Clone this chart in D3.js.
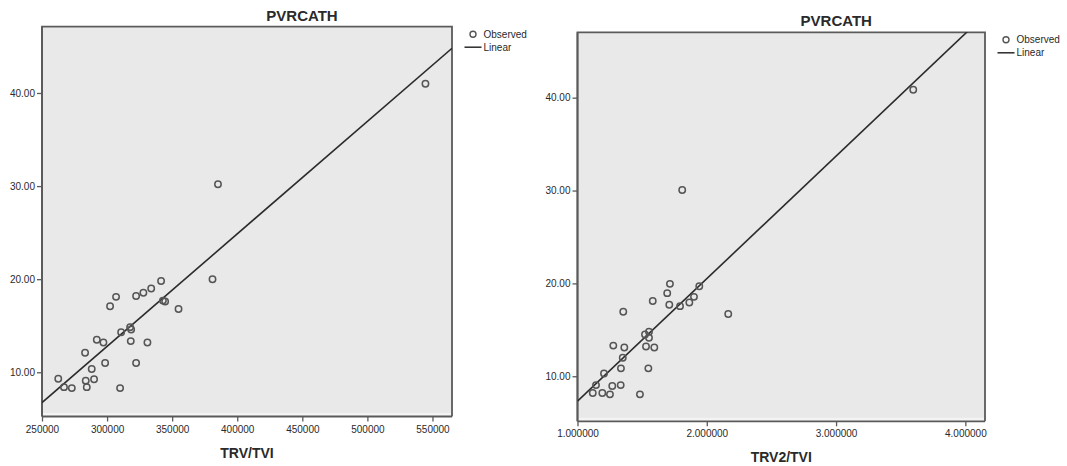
<!DOCTYPE html>
<html>
<head>
<meta charset="utf-8">
<script src="https://cdn.jsdelivr.net/npm/d3@7"></script>
<style>
  body { margin: 0; background: #fff; }
  svg { display: block; font-family: Arial, "Liberation Sans", sans-serif; }
</style>
</head>
<body>
<svg id="chart" width="1067" height="466"></svg>
<script>
// left panel: TRV/TVI vs PVRCATH
const trvTvi = [262500, 266900, 272900, 283100, 283600, 284400, 288200, 290000, 292100, 297200,
                298500, 302300, 306900, 310000, 310800, 317700, 318500, 318200, 322300, 322300,
                327900, 331000, 333900, 341500, 342900, 344600, 354900, 381000, 385200, 544600];
const pvrLeft = [9.3, 8.4, 8.3, 12.1, 9.1, 8.4, 10.35, 9.25, 13.5, 13.2,
                 11.0, 17.1, 18.1, 8.3, 14.3, 14.85, 14.6, 13.35, 18.2, 11.0,
                 18.55, 13.2, 19.0, 19.8, 17.7, 17.6, 16.8, 20.0, 30.2, 41.0];
// right panel: TRV2/TVI vs PVRCATH
const trv2Tvi = [1.118, 1.143, 1.192, 1.205, 1.251, 1.269, 1.277, 1.334, 1.336, 1.350,
                 1.354, 1.362, 1.483, 1.522, 1.530, 1.548, 1.553, 1.553, 1.582, 1.594,
                 1.694, 1.710, 1.715, 1.793, 1.865, 1.901, 1.942, 2.166, 1.810, 3.597];
const pvrRight = [8.2, 9.05, 8.2, 10.3, 8.05, 8.95, 13.3, 9.05, 10.85, 12.0,
                  16.95, 13.1, 8.05, 14.5, 13.2, 10.85, 14.8, 14.15, 18.1, 13.1,
                  18.95, 17.7, 19.95, 17.55, 17.95, 18.55, 19.7, 16.7, 30.05, 40.85];

// fitted lines: [intercept, slope]
const fitLeft = [-23.48, 0.00012086];
const fitRight = [-5.89, 13.2];

const yTicks = [10, 20, 30, 40];
const yTickLabels = ['10.00', '20.00', '30.00', '40.00'];
const xTicksLeft = [250000, 300000, 350000, 400000, 450000, 500000, 550000];
const xTickLabelsLeft = ['250000', '300000', '350000', '400000', '450000', '500000', '550000'];
const xTicksRight = [1, 2, 3, 4];
const xTickLabelsRight = ['1.000000', '2.000000', '3.000000', '4.000000'];

const svg = d3.select('#chart');
const frameCol = '#5a5a5a';
const textCol = '#2a2a2a';

function drawPanel(p) {
  const g = svg.append('g');
  const x = d3.scaleLinear().domain(p.xDomain).range([p.left, p.right]);
  const y = d3.scaleLinear().domain(p.yDomain).range([p.bottom, p.top]);

  // plot box
  g.append('rect')
    .attr('x', p.left).attr('y', p.top)
    .attr('width', p.right - p.left).attr('height', p.bottom - p.top)
    .attr('fill', '#f4f4f4');
  g.append('rect')
    .attr('x', p.left + 1).attr('y', p.top + 1)
    .attr('width', p.right - p.left - 2).attr('height', p.bottom - p.top - 4.5)
    .attr('fill', '#e9e9e9');
  g.append('path')
    .attr('d', `M${p.left},${p.bottom}V${p.top}H${p.right}V${p.bottom}`)
    .attr('fill', 'none').attr('stroke', frameCol).attr('stroke-width', 1.8);

  // axes
  const yAxis = g.append('g')
    .attr('transform', `translate(${p.left},0)`)
    .call(d3.axisLeft(y).tickValues(yTicks).tickSize(5).tickPadding(2)
      .tickFormat((d, i) => yTickLabels[i]));
  const xAxis = g.append('g')
    .attr('transform', `translate(0,${p.bottom})`)
    .call(d3.axisBottom(x).tickValues(p.xTicks).tickSize(5).tickPadding(4)
      .tickFormat((d, i) => p.xLabels[i]));
  [xAxis, yAxis].forEach(a => {
    a.select('.domain').attr('stroke', frameCol).attr('stroke-width', 1.8);
    a.selectAll('.tick line').attr('stroke', frameCol).attr('stroke-width', 1.3);
    a.selectAll('.tick text').attr('fill', textCol).style('font-size', '10px');
  });
  yAxis.select('.domain').attr('d', `M0,${p.top}V${p.bottom}`);
  xAxis.select('.domain').attr('d', `M${p.left},0H${p.right}`);

  // regression line clipped to the box
  const clipId = 'clip' + p.id;
  svg.append('clipPath').attr('id', clipId)
    .append('rect')
    .attr('x', p.left).attr('y', p.top)
    .attr('width', p.right - p.left).attr('height', p.bottom - p.top);
  const lineX = p.xDomain;
  g.append('line')
    .attr('clip-path', `url(#${clipId})`)
    .attr('x1', x(lineX[0])).attr('y1', y(p.fit[0] + p.fit[1] * lineX[0]))
    .attr('x2', x(lineX[1])).attr('y2', y(p.fit[0] + p.fit[1] * lineX[1]))
    .attr('stroke', '#2b2b2b').attr('stroke-width', 1.6);

  // observed points
  g.selectAll('circle.obs')
    .data(p.xs.map((v, i) => [v, p.ys[i]]))
    .enter().append('circle')
    .attr('class', 'obs')
    .attr('cx', d => x(d[0]))
    .attr('cy', d => y(d[1]))
    .attr('r', 3.2)
    .attr('fill', 'none')
    .attr('stroke', '#555')
    .attr('stroke-width', 1.5);

  // titles
  g.append('text')
    .attr('x', (p.left + p.right) / 2 + 55).attr('y', p.titleY)
    .attr('text-anchor', 'middle')
    .attr('font-weight', 'bold').style('font-size', '15px')
    .attr('fill', textCol)
    .text('PVRCATH');
  g.append('text')
    .attr('x', (p.left + p.right) / 2).attr('y', p.xTitleY)
    .attr('text-anchor', 'middle')
    .attr('font-weight', 'bold').style('font-size', '14px')
    .attr('fill', textCol)
    .text(p.xTitle);

  // legend
  const lg = g.append('g').attr('transform', `translate(${p.right + 21},${p.top + 7.5})`);
  lg.append('circle').attr('cx', 0).attr('cy', 0).attr('r', 3)
    .attr('fill', 'none').attr('stroke', '#555').attr('stroke-width', 1.4);
  lg.append('text').attr('x', 10.5).attr('y', 3.5)
    .style('font-size', '10px').attr('fill', textCol).text('Observed');
  lg.append('line').attr('x1', -8.5).attr('x2', 8.5).attr('y1', 13).attr('y2', 13)
    .attr('stroke', '#2b2b2b').attr('stroke-width', 1.5);
  lg.append('text').attr('x', 10.5).attr('y', 16.5)
    .style('font-size', '10px').attr('fill', textCol).text('Linear');
}

drawPanel({
  id: 'L', left: 42, right: 452, top: 26.7, bottom: 416.5,
  xDomain: [250000, 565000], yDomain: [5.25, 47.12],
  xTicks: xTicksLeft, xLabels: xTickLabelsLeft,
  xs: trvTvi, ys: pvrLeft, fit: fitLeft,
  titleY: 20.5, xTitleY: 458, xTitle: 'TRV/TVI'
});
drawPanel({
  id: 'R', left: 577.5, right: 985, top: 32.3, bottom: 421.3,
  xDomain: [1, 4.152], yDomain: [5.15, 47.04],
  xTicks: xTicksRight, xLabels: xTickLabelsRight,
  xs: trv2Tvi, ys: pvrRight, fit: fitRight,
  titleY: 26, xTitleY: 462, xTitle: 'TRV2/TVI'
});
</script>
</body>
</html>
